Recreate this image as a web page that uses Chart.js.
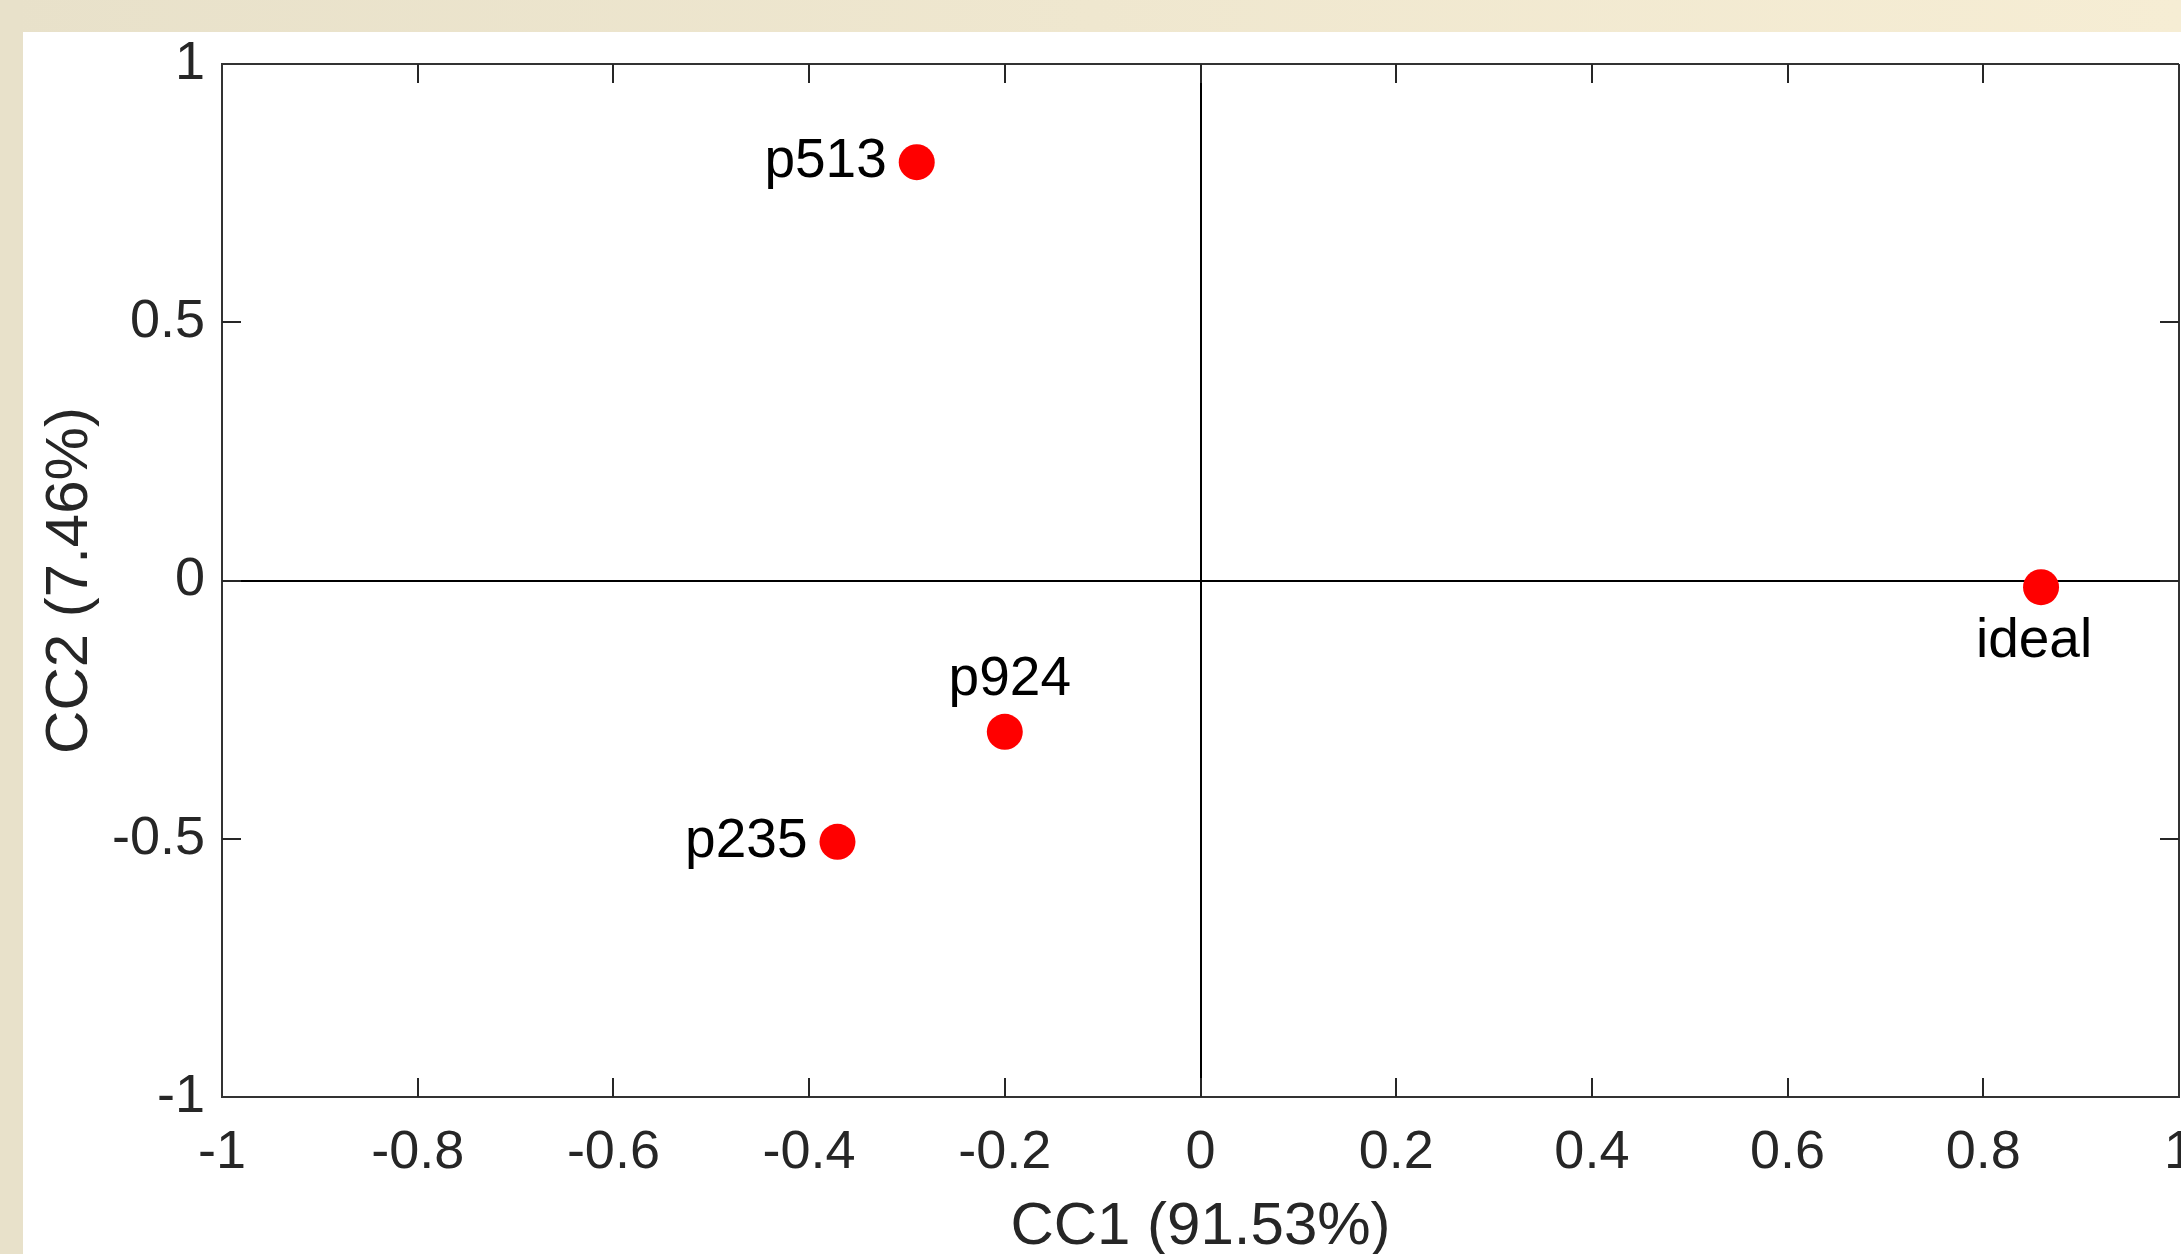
<!DOCTYPE html>
<html>
<head>
<meta charset="utf-8">
<script src="https://cdn.jsdelivr.net/npm/chart.js@4/dist/chart.umd.min.js"></script>
<style>
  html, body { margin: 0; padding: 0; overflow: hidden; width: 2181px; height: 1254px; }
  body { background: linear-gradient(to right, #e8e1ca, #f6edd4); position: relative; }
  #left { position: absolute; left: 0; top: 0; width: 23px; height: 1254px; background: #e8e1ca; }
  #box { position: absolute; left: 23px; top: 32px; width: 2158px; height: 1222px; background: #fff; overflow: visible; }
  #plot { position: absolute; left: 0; top: 0; }
</style>
</head>
<body>
<div id="left"></div>
<div id="box"><canvas id="plot" width="2258" height="1222"></canvas></div>
<script>
// data
const pointNames = ['p513', 'p924', 'p235', 'ideal'];
const cc1Values = [-0.29, -0.20, -0.371, 0.859];
const cc2Values = [0.81, -0.293, -0.506, -0.013];
const labelSides = ['left', 'above', 'left', 'below'];

const xTicks = [-1, -0.8, -0.6, -0.4, -0.2, 0, 0.2, 0.4, 0.6, 0.8, 1];
const yTicks = [-1, -0.5, 0, 0.5, 1];

const FONT = "'Liberation Sans', Arial, sans-serif";
const TEXT = '#262626';

// edge lines and the zero cross
function gridColor(ctx) {
    if (!ctx.tick) return 'rgba(0,0,0,0)';
    const v = ctx.tick.value;
    if (v === 0) return '#000';
    if (v === 1) return '#333';
    return 'rgba(0,0,0,0)';
}

// inward tick marks on all four sides
const innerTicks = {
    id: 'innerTicks',
    afterDraw(chart) {
        const { ctx, chartArea: a, scales } = chart;
        const len = 19;
        ctx.save();
        ctx.strokeStyle = TEXT;
        ctx.lineWidth = 2;
        ctx.beginPath();
        xTicks.forEach(v => {
            if (v === -1 || v === 1) return;
            const px = Math.round(scales.x.getPixelForValue(v));
            ctx.moveTo(px, a.bottom); ctx.lineTo(px, a.bottom - len);
            ctx.moveTo(px, a.top); ctx.lineTo(px, a.top + len);
        });
        yTicks.forEach(v => {
            if (v === -1 || v === 1) return;
            const py = Math.round(scales.y.getPixelForValue(v));
            ctx.moveTo(a.left, py); ctx.lineTo(a.left + len, py);
            ctx.moveTo(a.right, py); ctx.lineTo(a.right - len, py);
        });
        ctx.stroke();
        ctx.restore();
    }
};

// names next to the points
const pointLabels = {
    id: 'pointLabels',
    afterDatasetsDraw(chart) {
        const { ctx } = chart;
        const meta = chart.getDatasetMeta(0);
        ctx.save();
        ctx.font = '55px ' + FONT;
        ctx.fillStyle = '#000';
        ctx.textBaseline = 'middle';
        meta.data.forEach((pt, i) => {
            const side = labelSides[i];
            if (side === 'left') {
                ctx.textAlign = 'right';
                ctx.fillText(pointNames[i], pt.x - 30, pt.y);
            } else if (side === 'above') {
                ctx.textAlign = 'center';
                ctx.fillText(pointNames[i], pt.x + 5, pt.y - 52);
            } else {
                ctx.textAlign = 'center';
                ctx.fillText(pointNames[i], pt.x - 7, pt.y + 55);
            }
        });
        ctx.restore();
    }
};

const chart = new Chart(document.getElementById('plot').getContext('2d'), {
    type: 'scatter',
    data: {
        datasets: [{
            data: cc1Values.map((x, i) => ({ x: x, y: cc2Values[i] })),
            backgroundColor: '#ff0000',
            borderWidth: 0,
            pointRadius: 18,
            pointHoverRadius: 18
        }]
    },
    options: {
        responsive: false,
        devicePixelRatio: 1,
        animation: false,
        layout: { padding: { left: 17, top: 32, right: 102, bottom: 0 } },
        plugins: { legend: { display: false }, tooltip: { enabled: false } },
        scales: {
            x: {
                type: 'linear', min: -1, max: 1, z: 1,
                afterBuildTicks: s => { s.ticks = xTicks.map(v => ({ value: v })); },
                afterFit: s => { s.height = 157; },
                ticks: {
                    font: { family: FONT, size: 54 }, color: TEXT, padding: 24,
                    maxRotation: 0, autoSkip: false,
                    callback: v => String(Number(v.toFixed(2)))
                },
                grid: { drawTicks: false, color: gridColor, lineWidth: 2 },
                border: { display: true, color: '#333', width: 2 },
                title: {
                    display: true, text: 'CC1 (91.53%)', color: TEXT,
                    font: { family: FONT, size: 60, lineHeight: 0.9 }, padding: 0
                }
            },
            y: {
                type: 'linear', min: -1, max: 1, z: 1,
                afterBuildTicks: s => { s.ticks = yTicks.map(v => ({ value: v })); },
                afterFit: s => { s.width = 182; s.paddingTop = 0; s.paddingBottom = 0; },
                ticks: {
                    font: { family: FONT, size: 54 }, color: TEXT, padding: 17,
                    autoSkip: false,
                    callback: v => String(Number(v.toFixed(2)))
                },
                grid: { drawTicks: false, color: gridColor, lineWidth: 2 },
                border: { display: true, color: '#333', width: 2 },
                title: {
                    display: true, text: 'CC2 (7.46%)', color: TEXT,
                    font: { family: FONT, size: 60, lineHeight: 1 }, padding: 0
                }
            }
        }
    },
    plugins: [innerTicks, pointLabels]
});
</script>
</body>
</html>
